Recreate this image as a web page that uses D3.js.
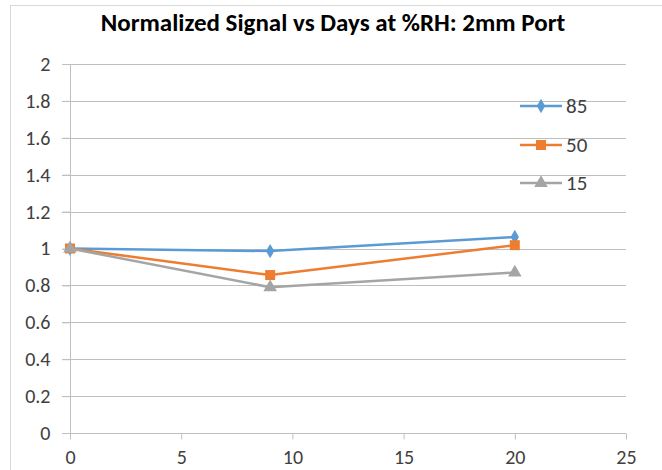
<!DOCTYPE html>
<html><head><meta charset="utf-8">
<script src="https://cdn.jsdelivr.net/npm/d3@7"></script>
<style>body{margin:0;background:#fff}svg{display:block}</style>
</head><body>
<svg id="c" width="662" height="470"></svg>
<script>
const days = [0, 9, 20];
const rh85 = [1.0, 0.986, 1.062];
const rh50 = [1.0, 0.856, 1.018];
const rh15 = [1.0, 0.79, 0.87];
const seriesNames = ["85", "50", "15"];
const yTicks = [0, 0.2, 0.4, 0.6, 0.8, 1, 1.2, 1.4, 1.6, 1.8, 2];
const xTicks = [0, 5, 10, 15, 20, 25];
const title = "Normalized Signal vs Days at %RH: 2mm Port";

const series = [
  {name: seriesNames[0], vals: rh85, color: "#5b9bd5", shape: d3.symbolDiamond, size: 60},
  {name: seriesNames[1], vals: rh50, color: "#ed7d31", shape: d3.symbolSquare, size: 100},
  {name: seriesNames[2], vals: rh15, color: "#a5a5a5", shape: d3.symbolTriangle, size: 80}
];

const svg = d3.select("#c");
const font = "Carlito, 'Liberation Sans', Arial, sans-serif";
svg.append("rect").attr("x", 10.5).attr("y", 5.5).attr("width", 700).attr("height", 500)
  .attr("fill", "#fff").attr("stroke", "#d9d9d9");

const x = d3.scaleLinear().domain([0, 25]).range([70, 626]);
const y = d3.scaleLinear().domain([0, 2]).range([433, 64]);

// gridlines
svg.append("g").selectAll("line").data(yTicks.filter(d => d > 0)).join("line")
  .attr("x1", 62).attr("x2", x(25)).attr("y1", d => Math.round(y(d)) + 0.5).attr("y2", d => Math.round(y(d)) + 0.5)
  .attr("stroke", "#bfbfbf").attr("stroke-width", 1);

// y axis
const ya = svg.append("g").attr("transform", "translate(70.5,0)")
  .call(d3.axisLeft(y).tickValues(yTicks).tickSize(8).tickPadding(12).tickFormat(d => d3.format("~g")(d)));
ya.select(".domain").attr("stroke", "#bfbfbf").attr("d", `M0,${y(2)}V${y(0)}`);
ya.selectAll(".tick line").attr("stroke", "#bfbfbf");
ya.selectAll("text").attr("font-size", 20).attr("font-family", font).attr("fill", "#404040");

// x axis
const xa = svg.append("g").attr("transform", "translate(0,433.5)")
  .call(d3.axisBottom(x).tickValues(xTicks).tickSize(6).tickPadding(10));
xa.select(".domain").attr("stroke", "#bfbfbf").attr("d", `M${x(0)-8},0H${x(25)}`);
xa.selectAll(".tick line").attr("stroke", "#bfbfbf");
xa.selectAll("text").attr("font-size", 20).attr("font-family", font).attr("fill", "#404040");

// lines
const line = d3.line().x((d, i) => x(days[i])).y(d => y(d));
series.forEach(s => {
  svg.append("path").datum(s.vals).attr("d", line).attr("fill", "none")
    .attr("stroke", s.color).attr("stroke-width", 2.5).attr("stroke-linejoin", "round");
});
series.forEach(s => {
  svg.append("g").selectAll("path").data(s.vals).join("path")
    .attr("transform", (d, i) => `translate(${x(days[i])},${y(d)})`)
    .attr("d", d3.symbol().type(s.shape).size(s.size)).attr("fill", s.color);
});

// legend
const lg = svg.append("g");
const ly = [106, 145, 183];
series.forEach((s, i) => {
  const g = lg.append("g").attr("transform", `translate(0,${ly[i]})`);
  g.append("line").attr("x1", 520).attr("x2", 562).attr("stroke", s.color).attr("stroke-width", 2.5);
  g.append("path").attr("transform", "translate(541,0)").attr("d", d3.symbol().type(s.shape).size(s.size)).attr("fill", s.color);
  g.append("text").attr("x", 566).attr("y", 7).text(s.name).attr("font-size", 21)
    .attr("font-family", font).attr("fill", "#404040");
});

svg.append("text").attr("x", 333).attr("y", 31).attr("text-anchor", "middle")
  .attr("font-size", 25).attr("font-weight", "bold").attr("font-family", font).attr("fill", "#000")
  .text(title);
</script>
</body></html>
